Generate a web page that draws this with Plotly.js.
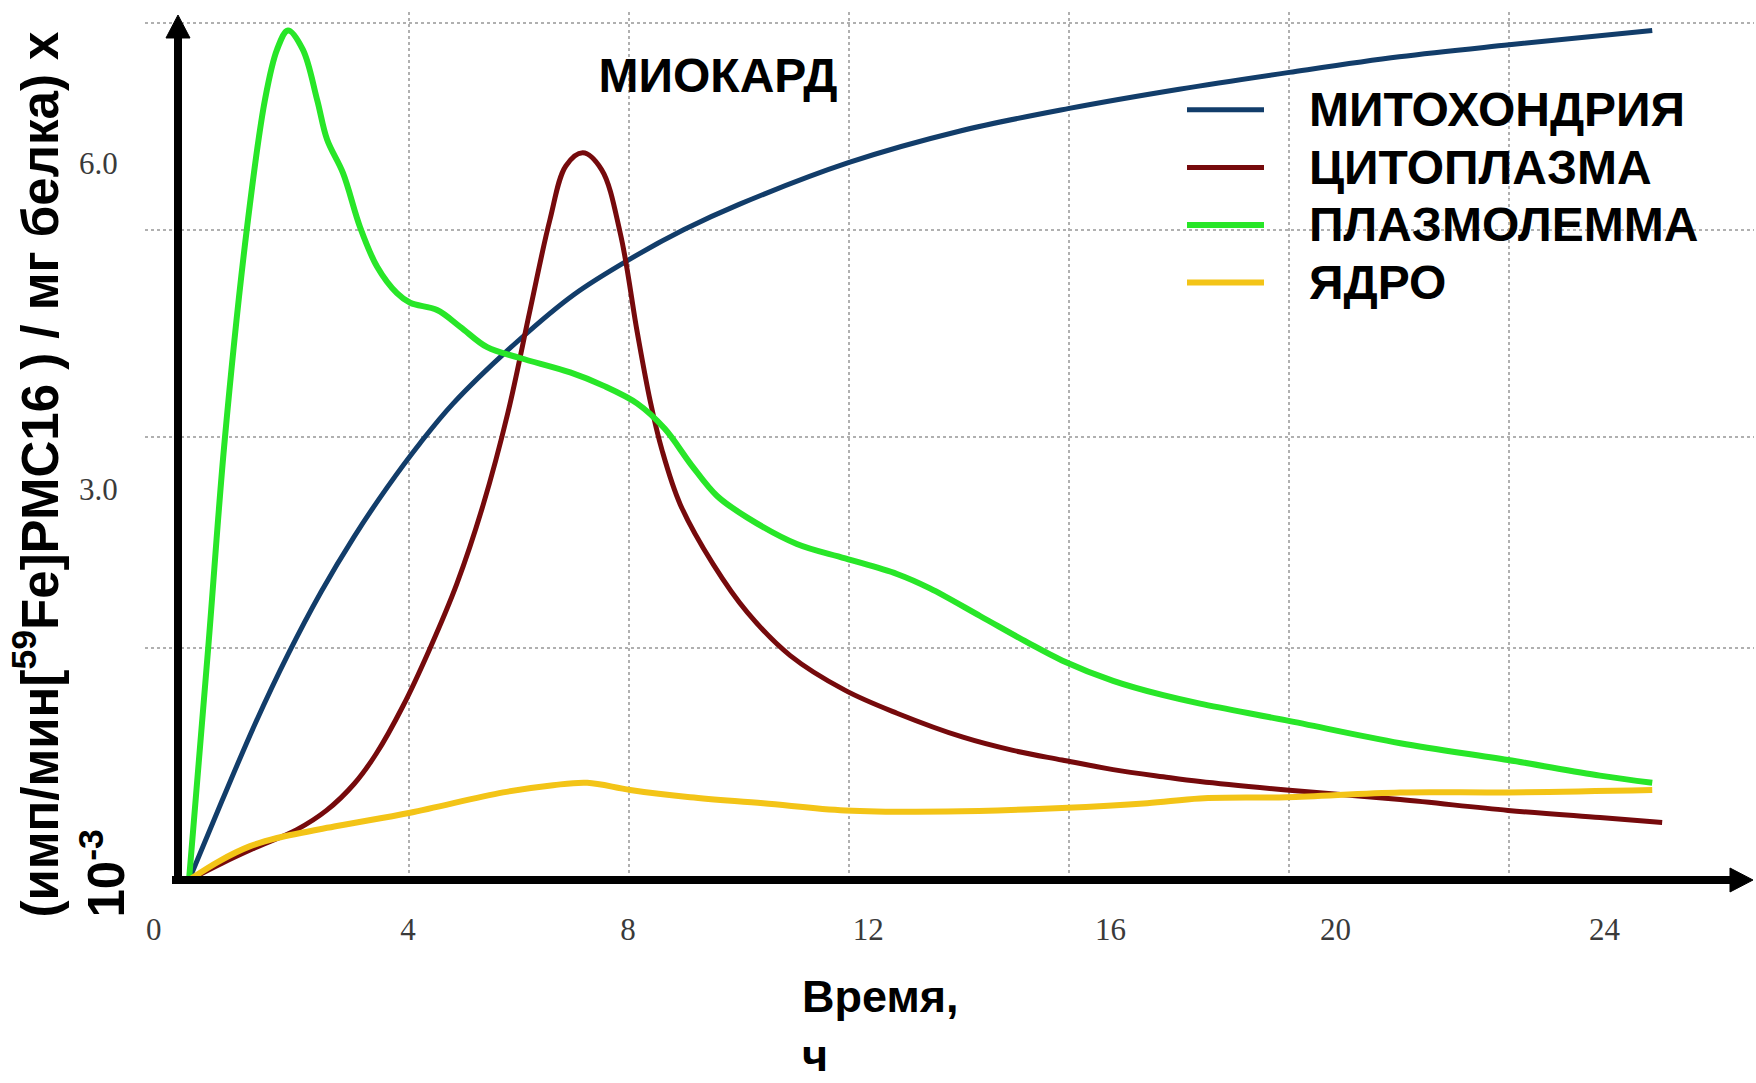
<!DOCTYPE html>
<html>
<head>
<meta charset="utf-8">
<script src="https://cdn.plot.ly/plotly-3.0.1.min.js"></script>
<style>
html, body { margin: 0; padding: 0; background: #ffffff; }
#chart { width: 1756px; height: 1083px; }
</style>
</head>
<body>
<div id="chart"></div>
<script>
// ---- data (time in hours, activity in units of the y axis) ----
const seriesNames = ['МИТОХОНДРИЯ', 'ЦИТОПЛАЗМА', 'ПЛАЗМОЛЕММА', 'ЯДРО'];

const mitoX = [0, 0.6, 1.2, 1.8, 2.4, 3.0, 3.6, 4.2, 4.8, 6.0, 7.0, 8.0, 9.0, 10.0, 12.0, 14.0, 16.0, 18.0, 20.0, 22.0, 24.0, 26.6];
const mitoY = [0, 0.66, 1.3, 1.88, 2.4, 2.86, 3.27, 3.64, 3.97, 4.5, 4.88, 5.17, 5.42, 5.63, 5.98, 6.24, 6.43, 6.59, 6.73, 6.86, 6.96, 7.08];

const cytoX = [0, 0.6, 1.16, 1.96, 2.5, 3.0, 3.4, 3.89, 4.38, 4.87, 5.35, 5.8, 6.2, 6.56, 6.85, 7.16, 7.5, 7.84, 8.15, 8.38, 8.6, 8.93, 9.53, 10.15, 10.93, 11.93, 12.87, 14.07, 14.98, 15.87, 16.8, 17.71, 18.38, 19.95, 22.02, 23.98, 25.65, 26.78];
const cytoY = [0, 0.14, 0.26, 0.42, 0.58, 0.8, 1.05, 1.45, 1.93, 2.47, 3.13, 3.9, 4.75, 5.5, 5.95, 6.06, 5.92, 5.39, 4.56, 4.0, 3.58, 3.13, 2.63, 2.23, 1.87, 1.58, 1.39, 1.19, 1.08, 1.0, 0.92, 0.86, 0.82, 0.75, 0.67, 0.58, 0.52, 0.48];

const plasmaX = [0, 0.35, 0.65, 1.05, 1.38, 1.6, 1.8, 2.07, 2.33, 2.51, 2.8, 3.11, 3.42, 3.78, 4.02, 4.51, 4.93, 5.42, 6.02, 6.93, 7.53, 8.15, 8.65, 9.13, 9.6, 10.15, 11.05, 11.93, 12.87, 13.47, 14.38, 15.24, 15.87, 16.8, 17.71, 18.38, 19.95, 22.02, 23.98, 25.65, 26.6];
const plasmaY = [0, 1.94, 3.67, 5.42, 6.5, 6.92, 7.08, 6.92, 6.5, 6.17, 5.89, 5.44, 5.11, 4.89, 4.81, 4.75, 4.61, 4.44, 4.35, 4.23, 4.12, 3.97, 3.76, 3.46, 3.2, 3.02, 2.8, 2.68, 2.55, 2.43, 2.2, 1.98, 1.83, 1.66, 1.54, 1.47, 1.33, 1.14, 1.0, 0.87, 0.81];

const nucleusX = [0, 0.56, 1.1, 1.6, 2.69, 4.02, 5.71, 6.62, 7.24, 8.02, 9.11, 10.44, 11.93, 13.78, 15.87, 17.42, 18.38, 19.95, 22.02, 23.98, 26.6];
const nucleusY = [0, 0.16, 0.28, 0.35, 0.45, 0.56, 0.73, 0.79, 0.81, 0.75, 0.69, 0.64, 0.58, 0.57, 0.6, 0.64, 0.68, 0.69, 0.73, 0.73, 0.75];

// ---- axis ticks ----
const xGridVals = [4, 8, 12, 16, 20, 24];
const xTickLabels = ['0', '4', '8', '12', '16', '20', '24'];
const xTickLabelPos = [-0.64, 3.98, 7.98, 12.35, 16.75, 20.84, 25.73];
const yGridVals = [1.93, 3.69, 5.42, 7.14];
const yTickLabels = ['3.0', '6.0'];
const yTickLabelPos = [3.26, 5.975];

// ---- layout geometry ----
const W = 1756, H = 1083;
const M = { l: 145, r: 2, t: 12, b: 203 };
const PW = W - M.l - M.r, PH = H - M.t - M.b;
const xRange = [-0.8, 28.45];
const yRange = [0, 7.2333];
const px2paperX = px => (px - M.l) / PW;
const px2paperY = py => (H - M.b - py) / PH;

const colors = ['#123d6a', '#760a0c', '#28e628', '#f3c417'];
const widths = [5, 5, 6, 6];
const xs = [mitoX, cytoX, plasmaX, nucleusX];
const ys = [mitoY, cytoY, plasmaY, nucleusY];

const pad = '\u00A0\u00A0\u00A0';
const traces = seriesNames.map((name, i) => ({
  type: 'scatter',
  mode: 'lines',
  name: '<span style="font-size:48px">' + pad + name + '</span>',
  x: xs[i],
  y: ys[i],
  line: { color: colors[i], width: widths[i], shape: 'spline', smoothing: 1 },
  hoverinfo: 'skip'
}));

const boldFont = (size) => ({ family: 'Liberation Sans, Arial, sans-serif', size: size, weight: 'bold', color: '#000000' });
const tickFont = { family: 'Liberation Serif, Times New Roman, serif', size: 31, color: '#3a3a3a' };
const minorGrid = (vals) => ({
  tickmode: 'array', tickvals: vals, ticks: '',
  showgrid: true, gridcolor: '#b0b0b0', gridwidth: 2, griddash: 'dot'
});

// axis arrows (black, thick) as layout shapes in paper coordinates
const P = (px, py) => px2paperX(px).toFixed(5) + ',' + px2paperY(py).toFixed(5);
const axisShapes = [
  { type: 'line', xref: 'paper', yref: 'paper', layer: 'above',
    x0: px2paperX(172), x1: px2paperX(1736), y0: px2paperY(880), y1: px2paperY(880),
    line: { color: '#000000', width: 8 } },
  { type: 'path', xref: 'paper', yref: 'paper', layer: 'above',
    path: 'M' + P(1753, 880) + 'L' + P(1730, 868) + 'L' + P(1730, 892) + 'Z',
    fillcolor: '#000000', line: { color: '#000000', width: 1 } },
  { type: 'line', xref: 'paper', yref: 'paper', layer: 'above',
    x0: px2paperX(178), x1: px2paperX(178), y0: px2paperY(884), y1: px2paperY(34),
    line: { color: '#000000', width: 8 } },
  { type: 'path', xref: 'paper', yref: 'paper', layer: 'above',
    path: 'M' + P(178, 15) + 'L' + P(166, 38) + 'L' + P(190, 38) + 'Z',
    fillcolor: '#000000', line: { color: '#000000', width: 1 } }
];

const layout = {
  width: W,
  height: H,
  margin: M,
  paper_bgcolor: '#ffffff',
  plot_bgcolor: '#ffffff',
  showlegend: true,
  title: {
    text: 'МИОКАРД',
    font: boldFont(48),
    xref: 'paper', x: px2paperX(718), xanchor: 'center',
    yref: 'container', y: 1 - 75 / H, yanchor: 'middle'
  },
  xaxis: {
    range: xRange, fixedrange: true,
    tickmode: 'array', tickvals: xTickLabelPos, ticktext: xTickLabels,
    showgrid: false, zeroline: false, showline: false,
    ticks: 'outside', ticklen: 22, tickcolor: 'rgba(0,0,0,0)', tickfont: tickFont,
    minor: minorGrid(xGridVals)
  },
  yaxis: {
    range: yRange, fixedrange: true,
    tickmode: 'array', tickvals: yTickLabelPos, ticktext: yTickLabels,
    showgrid: false, zeroline: false, showline: false,
    ticks: 'outside', ticklen: 20, tickcolor: 'rgba(0,0,0,0)', tickfont: tickFont,
    minor: minorGrid(yGridVals)
  },
  legend: {
    x: px2paperX(1182), xanchor: 'left',
    y: px2paperY(76), yanchor: 'top',
    bgcolor: 'rgba(0,0,0,0)', borderwidth: 0,
    font: boldFont(42), itemwidth: 77, tracegroupgap: 0
  },
  shapes: axisShapes,
  annotations: [
    // y axis title
    { xref: 'paper', yref: 'paper', x: px2paperX(2), y: px2paperY(920),
      xanchor: 'left', yanchor: 'bottom', textangle: -90, align: 'left', showarrow: false,
      text: '(имп/мин[<sup>59</sup>Fe]РМС16 ) / мг белка) х<br>10<sup>-3</sup>',
      font: boldFont(51) },
    // x axis title
    { xref: 'paper', yref: 'paper', x: px2paperX(800), y: px2paperY(1083),
      xanchor: 'left', yanchor: 'bottom', align: 'left', showarrow: false,
      text: 'Время,<br>ч', font: boldFont(45) }
  ]
};

Plotly.newPlot('chart', traces, layout, { staticPlot: true, displayModeBar: false });
</script>
</body>
</html>
